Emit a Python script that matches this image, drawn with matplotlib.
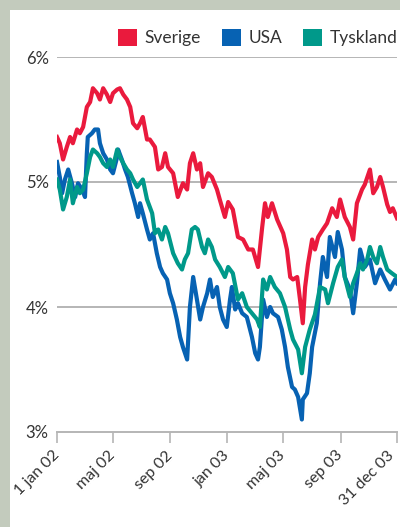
import matplotlib
matplotlib.use("Agg")
import matplotlib.pyplot as plt
from matplotlib.patches import Patch
from matplotlib.transforms import ScaledTranslation
import pandas as pd

# days since 2002-01-01 and yields (%)
se_days = [0, 6, 13, 21, 28, 34, 43, 49, 56, 64, 71, 77, 86, 92, 99, 107, 114, 120, 129, 135,
           142, 150, 157, 163, 172, 178, 184, 189, 193, 199, 210, 217, 225, 232, 238, 249, 259, 270,
           279, 285, 292, 300, 307, 313, 324, 332, 343, 349, 360, 367, 377, 388, 399, 410, 420, 431,
           440, 446, 452, 461, 472, 485, 493, 500, 506, 515, 521, 527, 532, 538, 547, 553, 560, 570,
           579, 590, 600, 607, 617, 628, 635, 643, 654, 660, 671, 678, 686, 693, 699, 708, 714, 720, 729]
se_vals = [5.36, 5.31, 5.18, 5.28, 5.36, 5.31, 5.42, 5.39, 5.44, 5.60, 5.64, 5.75, 5.71, 5.66, 5.75,
           5.70, 5.64, 5.71, 5.74, 5.75, 5.70, 5.66, 5.60, 5.47, 5.43, 5.47, 5.52, 5.42, 5.34, 5.34,
           5.28, 5.10, 5.12, 5.23, 5.12, 5.07, 4.88, 4.99, 4.94, 5.15, 5.23, 5.10, 5.15, 4.96, 5.07,
           5.04, 4.94, 4.86, 4.72, 4.84, 4.78, 4.56, 4.54, 4.46, 4.46, 4.32, 4.64, 4.83, 4.72, 4.83,
           4.70, 4.59, 4.46, 4.24, 4.22, 4.24, 4.06, 3.87, 4.16, 4.34, 4.54, 4.46, 4.56, 4.62, 4.67,
           4.79, 4.72, 4.86, 4.72, 4.64, 4.54, 4.83, 4.94, 4.98, 5.10, 4.91, 4.96, 5.04, 4.96, 4.82,
           4.76, 4.79, 4.71]

us_days = [0, 6, 11, 17, 24, 32, 39, 45, 54, 60, 64, 66, 75, 81, 88, 92, 99, 107, 114, 120, 129,
           131, 139, 146, 152, 161, 167, 174, 178, 184, 193, 199, 206, 214, 221, 227, 236, 242, 249,
           257, 264, 270, 279, 285, 292, 300, 307, 313, 322, 328, 334, 343, 349, 356, 364, 371, 375,
           382, 388, 397, 407, 418, 425, 431, 435, 442, 450, 457, 463, 474, 482, 489, 495, 504, 510,
           517, 525, 527, 536, 542, 547, 557, 564, 570, 579, 585, 596, 602, 611, 617, 628, 635, 643,
           650, 660, 671, 682, 693, 703, 714, 725, 729]
us_vals = [5.16, 5.04, 4.91, 5.02, 5.10, 4.99, 4.88, 4.99, 4.94, 4.88, 5.23, 5.36, 5.39, 5.42, 5.42,
           5.31, 5.23, 5.18, 5.10, 5.07, 5.20, 5.26, 5.18, 5.10, 5.04, 4.91, 4.83, 4.72, 4.83, 4.75,
           4.62, 4.54, 4.59, 4.43, 4.32, 4.27, 4.22, 4.11, 4.03, 3.90, 3.76, 3.68, 3.58, 4.00, 4.24,
           4.06, 3.90, 4.00, 4.11, 4.22, 4.08, 4.16, 4.00, 3.90, 3.84, 4.06, 4.16, 3.98, 4.03, 3.95,
           3.92, 3.76, 3.63, 3.58, 3.68, 4.06, 3.92, 4.00, 3.95, 3.92, 3.82, 3.68, 3.52, 3.36, 3.34,
           3.28, 3.10, 3.26, 3.31, 3.47, 3.68, 3.87, 4.19, 4.40, 4.24, 4.56, 4.40, 4.60, 4.46, 4.24,
           4.14, 3.95, 4.19, 4.46, 4.32, 4.38, 4.19, 4.30, 4.22, 4.14, 4.22, 4.19]

de_days = [0, 6, 13, 21, 28, 34, 43, 49, 56, 64, 71, 77, 86, 92, 99, 107, 114, 120, 129, 135, 142,
           150, 157, 163, 172, 178, 184, 193, 204, 210, 217, 225, 232, 238, 249, 259, 268, 274, 281,
           289, 296, 302, 311, 317, 324, 332, 339, 349, 360, 367, 377, 388, 397, 407, 418, 429, 435,
           442, 450, 457, 467, 478, 489, 500, 506, 517, 525, 532, 542, 553, 564, 575, 581, 592, 602,
           611, 617, 628, 635, 643, 650, 656, 665, 671, 678, 686, 693, 699, 708, 718, 729]
de_vals = [5.02, 4.94, 4.78, 4.88, 5.02, 4.83, 4.96, 4.91, 4.94, 5.07, 5.20, 5.26, 5.23, 5.20, 5.15,
           5.12, 5.18, 5.12, 5.26, 5.20, 5.15, 5.10, 5.07, 5.02, 4.96, 4.99, 5.02, 4.86, 4.75, 4.59,
           4.62, 4.54, 4.64, 4.59, 4.43, 4.35, 4.30, 4.38, 4.43, 4.62, 4.64, 4.62, 4.48, 4.43, 4.54,
           4.48, 4.38, 4.32, 4.24, 4.32, 4.27, 4.06, 4.11, 4.00, 3.95, 3.90, 3.84, 4.22, 4.14, 4.24,
           4.16, 4.11, 4.00, 3.82, 3.74, 3.66, 3.47, 3.68, 3.82, 3.94, 4.16, 4.14, 4.03, 4.19, 4.32,
           4.38, 4.24, 4.08, 4.19, 4.27, 4.35, 4.30, 4.38, 4.48, 4.40, 4.35, 4.48, 4.40, 4.30, 4.27, 4.24]

series_names = ["Sverige", "USA", "Tyskland"]
series_colors = ["#ea1a3d", "#0762b3", "#00998a"]
tick_dates = ["2002-01-01", "2002-05-01", "2002-09-01", "2003-01-01", "2003-05-01", "2003-09-01", "2003-12-31"]
tick_labels = ["1 jan 02", "maj 02", "sep 02", "jan 03", "maj 03", "sep 03", "31 dec 03"]
y_ticks = [3, 4, 5, 6]
y_labels = ["3%", "4%", "5%", "6%"]

start = pd.Timestamp("2002-01-01")
def to_dates(days):
    return start + pd.to_timedelta(days, unit="D")

plt.rcParams["font.family"] = ["Lato", "DejaVu Sans"]

fig = plt.figure(figsize=(4.0, 5.27), dpi=100)
fig.patch.set_facecolor("#c3cbbd")

# white panel behind the chart
panel = fig.add_axes([10 / 400, 0, 390 / 400, 1 - 10 / 527], zorder=-5)
panel.set_facecolor("white")
panel.set_xticks([])
panel.set_yticks([])
for s in panel.spines.values():
    s.set_visible(False)

ax = fig.add_axes([57 / 400, 1 - 432 / 527, 340 / 400, 375 / 527], zorder=1)
ax.set_facecolor("none")

for d, v, c, n in zip([se_days, us_days, de_days], [se_vals, us_vals, de_vals], series_colors, series_names):
    ax.plot(to_dates(d), v, color=c, lw=3.0, solid_joinstyle="round", label=n, zorder=3)

ax.set_xlim(pd.Timestamp(tick_dates[0]), pd.Timestamp(tick_dates[-1]))
ax.set_ylim(3, 6)
ax.set_yticks(y_ticks)
ax.set_yticklabels(y_labels, fontsize=12, color="#333333")
ax.tick_params(axis="y", length=0, pad=6)
for y in y_ticks[1:]:
    ax.axhline(y, color="#b5b5b5", lw=1.4, zorder=1)

ax.set_xticks([pd.Timestamp(t) for t in tick_dates])
ax.set_xticklabels(tick_labels, rotation=45, ha="right", va="top", rotation_mode="anchor",
                   fontsize=11.5, color="#333333")
ax.tick_params(axis="x", length=8, width=1.2, color="#b5b5b5", pad=3)
labs = ax.get_xticklabels()
for i, lab in enumerate(labs):
    dx = -10 if i == len(labs) - 1 else -5
    lab.set_transform(lab.get_transform() + ScaledTranslation(dx / 100, -1 / 100, fig.dpi_scale_trans))

for s in ["top", "right", "left"]:
    ax.spines[s].set_visible(False)
ax.spines["bottom"].set_color("#b5b5b5")
ax.spines["bottom"].set_linewidth(1.4)

handles = [Patch(facecolor=c, edgecolor="none", label=n) for c, n in zip(series_colors, series_names)]
leg = fig.legend(handles=handles, loc="upper right", bbox_to_anchor=(0.995, 1 - 29 / 527), ncol=3,
                 frameon=False, fontsize=12.5, handlelength=1.1, handleheight=1.1,
                 handletextpad=0.45, columnspacing=1.2, borderaxespad=0, borderpad=0)
for t in leg.get_texts():
    t.set_color("#333333")

fig.savefig("out.png", dpi=100, facecolor=fig.get_facecolor())
